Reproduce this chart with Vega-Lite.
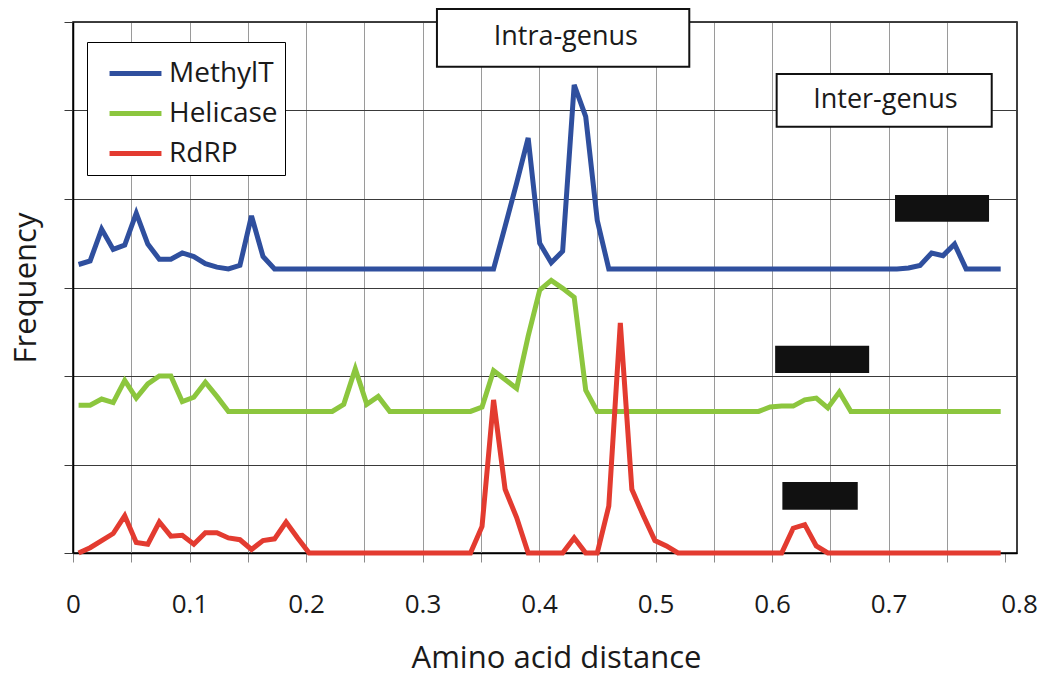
{
  "$schema": "https://vega.github.io/schema/vega-lite/v6.json",
  "width": 944,
  "height": 531,
  "autosize": {"type": "none"},
  "padding": {"left": 73, "top": 22, "right": 30, "bottom": 123},
  "background": "white",
  "config": {
    "font": "Open Sans",
    "view": {"stroke": "#000", "strokeWidth": 1.5},
    "axis": {
      "domainColor": "#000",
      "domainWidth": 1.5,
      "tickWidth": 1,
      "tickSize": 9,
      "gridWidth": 1,
      "labelFont": "Open Sans",
      "labelFontSize": 26,
      "labelColor": "#1a1a1a",
      "titleFont": "Open Sans",
      "titleFontSize": 31,
      "titleFontWeight": "normal",
      "titleColor": "#1a1a1a"
    }
  },
  "datasets": {
    "curves": [
      {"x": 0.0048, "MethylT": 3.26, "Helicase": 1.67, "RdRP": 0},
      {"x": 0.0147, "MethylT": 3.30, "Helicase": 1.67, "RdRP": 0.06},
      {"x": 0.0246, "MethylT": 3.66, "Helicase": 1.74, "RdRP": 0.14},
      {"x": 0.0345, "MethylT": 3.43, "Helicase": 1.70, "RdRP": 0.22},
      {"x": 0.0444, "MethylT": 3.48, "Helicase": 1.95, "RdRP": 0.42},
      {"x": 0.0543, "MethylT": 3.84, "Helicase": 1.75, "RdRP": 0.12},
      {"x": 0.0642, "MethylT": 3.49, "Helicase": 1.91, "RdRP": 0.10},
      {"x": 0.0741, "MethylT": 3.32, "Helicase": 2.00, "RdRP": 0.35},
      {"x": 0.0840, "MethylT": 3.32, "Helicase": 2.00, "RdRP": 0.19},
      {"x": 0.0938, "MethylT": 3.39, "Helicase": 1.71, "RdRP": 0.20},
      {"x": 0.1037, "MethylT": 3.35, "Helicase": 1.76, "RdRP": 0.10},
      {"x": 0.1136, "MethylT": 3.27, "Helicase": 1.93, "RdRP": 0.23},
      {"x": 0.1235, "MethylT": 3.23, "Helicase": 1.77, "RdRP": 0.23},
      {"x": 0.1334, "MethylT": 3.21, "Helicase": 1.60, "RdRP": 0.17},
      {"x": 0.1433, "MethylT": 3.25, "Helicase": 1.60, "RdRP": 0.15},
      {"x": 0.1532, "MethylT": 3.81, "Helicase": 1.60, "RdRP": 0.04},
      {"x": 0.1631, "MethylT": 3.35, "Helicase": 1.60, "RdRP": 0.14},
      {"x": 0.1730, "MethylT": 3.21, "Helicase": 1.60, "RdRP": 0.16},
      {"x": 0.1829, "MethylT": 3.21, "Helicase": 1.60, "RdRP": 0.35},
      {"x": 0.1928, "MethylT": 3.21, "Helicase": 1.60, "RdRP": 0.17},
      {"x": 0.2027, "MethylT": 3.21, "Helicase": 1.60, "RdRP": 0},
      {"x": 0.2126, "MethylT": 3.21, "Helicase": 1.60, "RdRP": 0},
      {"x": 0.2225, "MethylT": 3.21, "Helicase": 1.60, "RdRP": 0},
      {"x": 0.2324, "MethylT": 3.21, "Helicase": 1.68, "RdRP": 0},
      {"x": 0.2423, "MethylT": 3.21, "Helicase": 2.08, "RdRP": 0},
      {"x": 0.2522, "MethylT": 3.21, "Helicase": 1.68, "RdRP": 0},
      {"x": 0.2620, "MethylT": 3.21, "Helicase": 1.77, "RdRP": 0},
      {"x": 0.2719, "MethylT": 3.21, "Helicase": 1.60, "RdRP": 0},
      {"x": 0.2818, "MethylT": 3.21, "Helicase": 1.60, "RdRP": 0},
      {"x": 0.2917, "MethylT": 3.21, "Helicase": 1.60, "RdRP": 0},
      {"x": 0.3016, "MethylT": 3.21, "Helicase": 1.60, "RdRP": 0},
      {"x": 0.3115, "MethylT": 3.21, "Helicase": 1.60, "RdRP": 0},
      {"x": 0.3214, "MethylT": 3.21, "Helicase": 1.60, "RdRP": 0},
      {"x": 0.3313, "MethylT": 3.21, "Helicase": 1.60, "RdRP": 0},
      {"x": 0.3412, "MethylT": 3.21, "Helicase": 1.60, "RdRP": 0},
      {"x": 0.3511, "MethylT": 3.21, "Helicase": 1.65, "RdRP": 0.30},
      {"x": 0.3610, "MethylT": 3.21, "Helicase": 2.06, "RdRP": 1.73},
      {"x": 0.3709, "MethylT": 3.69, "Helicase": 1.96, "RdRP": 0.72},
      {"x": 0.3808, "MethylT": 4.18, "Helicase": 1.86, "RdRP": 0.40},
      {"x": 0.3907, "MethylT": 4.69, "Helicase": 2.45, "RdRP": 0},
      {"x": 0.4006, "MethylT": 3.50, "Helicase": 2.97, "RdRP": 0},
      {"x": 0.4105, "MethylT": 3.28, "Helicase": 3.08, "RdRP": 0},
      {"x": 0.4203, "MethylT": 3.41, "Helicase": 2.99, "RdRP": 0},
      {"x": 0.4302, "MethylT": 5.29, "Helicase": 2.89, "RdRP": 0.17},
      {"x": 0.4401, "MethylT": 4.93, "Helicase": 1.84, "RdRP": 0},
      {"x": 0.4500, "MethylT": 3.76, "Helicase": 1.60, "RdRP": 0},
      {"x": 0.4599, "MethylT": 3.21, "Helicase": 1.60, "RdRP": 0.53},
      {"x": 0.4698, "MethylT": 3.21, "Helicase": 1.60, "RdRP": 2.60},
      {"x": 0.4797, "MethylT": 3.21, "Helicase": 1.60, "RdRP": 0.72},
      {"x": 0.4896, "MethylT": 3.21, "Helicase": 1.60, "RdRP": 0.42},
      {"x": 0.4995, "MethylT": 3.21, "Helicase": 1.60, "RdRP": 0.14},
      {"x": 0.5094, "MethylT": 3.21, "Helicase": 1.60, "RdRP": 0.08},
      {"x": 0.5193, "MethylT": 3.21, "Helicase": 1.60, "RdRP": 0},
      {"x": 0.5292, "MethylT": 3.21, "Helicase": 1.60, "RdRP": 0},
      {"x": 0.5391, "MethylT": 3.21, "Helicase": 1.60, "RdRP": 0},
      {"x": 0.5490, "MethylT": 3.21, "Helicase": 1.60, "RdRP": 0},
      {"x": 0.5589, "MethylT": 3.21, "Helicase": 1.60, "RdRP": 0},
      {"x": 0.5688, "MethylT": 3.21, "Helicase": 1.60, "RdRP": 0},
      {"x": 0.5787, "MethylT": 3.21, "Helicase": 1.60, "RdRP": 0},
      {"x": 0.5885, "MethylT": 3.21, "Helicase": 1.60, "RdRP": 0},
      {"x": 0.5984, "MethylT": 3.21, "Helicase": 1.65, "RdRP": 0},
      {"x": 0.6083, "MethylT": 3.21, "Helicase": 1.66, "RdRP": 0},
      {"x": 0.6182, "MethylT": 3.21, "Helicase": 1.66, "RdRP": 0.28},
      {"x": 0.6281, "MethylT": 3.21, "Helicase": 1.73, "RdRP": 0.32},
      {"x": 0.6380, "MethylT": 3.21, "Helicase": 1.75, "RdRP": 0.08},
      {"x": 0.6479, "MethylT": 3.21, "Helicase": 1.64, "RdRP": 0},
      {"x": 0.6578, "MethylT": 3.21, "Helicase": 1.82, "RdRP": 0},
      {"x": 0.6677, "MethylT": 3.21, "Helicase": 1.60, "RdRP": 0},
      {"x": 0.6776, "MethylT": 3.21, "Helicase": 1.60, "RdRP": 0},
      {"x": 0.6875, "MethylT": 3.21, "Helicase": 1.60, "RdRP": 0},
      {"x": 0.6974, "MethylT": 3.21, "Helicase": 1.60, "RdRP": 0},
      {"x": 0.7073, "MethylT": 3.21, "Helicase": 1.60, "RdRP": 0},
      {"x": 0.7172, "MethylT": 3.22, "Helicase": 1.60, "RdRP": 0},
      {"x": 0.7271, "MethylT": 3.25, "Helicase": 1.60, "RdRP": 0},
      {"x": 0.7370, "MethylT": 3.39, "Helicase": 1.60, "RdRP": 0},
      {"x": 0.7468, "MethylT": 3.36, "Helicase": 1.60, "RdRP": 0},
      {"x": 0.7567, "MethylT": 3.49, "Helicase": 1.60, "RdRP": 0},
      {"x": 0.7666, "MethylT": 3.21, "Helicase": 1.60, "RdRP": 0},
      {"x": 0.7765, "MethylT": 3.21, "Helicase": 1.60, "RdRP": 0},
      {"x": 0.7864, "MethylT": 3.21, "Helicase": 1.60, "RdRP": 0},
      {"x": 0.7963, "MethylT": 3.21, "Helicase": 1.60, "RdRP": 0}
    ],
    "bars": [
      {"gene": "MethylT", "x1": 0.7056, "x2": 0.7863, "y1": 3.744, "y2": 4.045},
      {"gene": "Helicase", "x1": 0.6027, "x2": 0.6834, "y1": 2.033, "y2": 2.341},
      {"gene": "RdRP", "x1": 0.6089, "x2": 0.6736, "y1": 0.489, "y2": 0.802}
    ],
    "boxes": [
      {"label": "Intra-genus", "x1": 0.3124, "x2": 0.5290, "y1": 5.495, "y2": 6.147, "tx": 0.4230, "ty": 5.740},
      {"label": "Inter-genus", "x1": 0.6040, "x2": 0.7886, "y1": 4.817, "y2": 5.412, "tx": 0.6973, "ty": 5.025}
    ]
  },
  "layer": [
    {
      "data": {"name": "curves"},
      "transform": [{"fold": ["MethylT", "Helicase", "RdRP"], "as": ["gene", "freq"]}],
      "mark": {"type": "line", "strokeWidth": 5},
      "encoding": {
        "x": {
          "field": "x",
          "type": "quantitative",
          "scale": {"domain": [0, 0.8103], "nice": false, "zero": false},
          "axis": {
            "title": "Amino acid distance",
            "titleX": 483,
            "titleY": 114,
            "titleBaseline": "alphabetic",
            "values": [0, 0.025, 0.05, 0.075, 0.1, 0.125, 0.15, 0.175, 0.2, 0.225, 0.25, 0.275, 0.3, 0.325, 0.35, 0.375, 0.4, 0.425, 0.45, 0.475, 0.5, 0.525, 0.55, 0.575, 0.6, 0.625, 0.65, 0.675, 0.7, 0.725, 0.75, 0.775, 0.8],
            "grid": true,
            "gridColor": "#9a9a9a",
            "gridOpacity": {"condition": {"test": "datum.value > 0.01 && datum.value < 0.79 && abs(datum.value * 20 - round(datum.value * 20)) < 0.01", "value": 1}, "value": 0},
            "tickColor": "#8a8a8a",
            "labelExpr": "abs(datum.value * 10 - round(datum.value * 10)) < 0.01 ? (datum.value == 0 ? '0' : format(datum.value, '.1f')) : ''",
            "labelOffset": {"condition": {"test": "datum.value > 0.79", "value": 14}, "value": 0},
            "labelOverlap": false,
            "labelFlush": false,
            "labelPadding": 29
          }
        },
        "y": {
          "field": "freq",
          "type": "quantitative",
          "scale": {"domain": [0, 6], "nice": false},
          "axis": {
            "title": "Frequency",
            "titleX": -38,
            "titleBaseline": "alphabetic",
            "titleAngle": -90,
            "values": [0, 1, 2, 3, 4, 5, 6],
            "labels": false,
            "grid": true,
            "gridColor": "#3a3a3a",
            "tickColor": "#3a3a3a"
          }
        },
        "color": {
          "field": "gene",
          "type": "nominal",
          "scale": {"domain": ["MethylT", "Helicase", "RdRP"], "range": ["#2F4F9E", "#8CC63E", "#E33B30"]},
          "legend": {
            "title": null,
            "orient": "none",
            "legendX": 14,
            "legendY": 20,
            "symbolType": "M-1.18,0H1.18",
            "symbolSize": 1936,
            "symbolStrokeWidth": 5,
            "labelFontSize": 28,
            "labelFont": "Open Sans",
            "labelColor": "#1a1a1a",
            "strokeColor": "#000",
            "fillColor": "#fff",
            "padding": 7,
            "symbolOffset": 17,
            "rowPadding": 1,
            "labelOffset": 9
          }
        }
      }
    },
    {
      "data": {"name": "bars"},
      "mark": {"type": "rect", "color": "#111"},
      "encoding": {
        "x": {"field": "x1", "type": "quantitative"},
        "x2": {"field": "x2"},
        "y": {"field": "y1", "type": "quantitative"},
        "y2": {"field": "y2"}
      }
    },
    {
      "data": {"name": "boxes"},
      "mark": {"type": "rect", "fill": "#fff", "stroke": "#111", "strokeWidth": 2},
      "encoding": {
        "x": {"field": "x1", "type": "quantitative"},
        "x2": {"field": "x2"},
        "y": {"field": "y1", "type": "quantitative"},
        "y2": {"field": "y2"}
      }
    },
    {
      "data": {"name": "boxes"},
      "mark": {"type": "text", "fontSize": 27, "font": "Open Sans", "color": "#1a1a1a", "baseline": "alphabetic", "align": "center"},
      "encoding": {
        "x": {"field": "tx", "type": "quantitative"},
        "y": {"field": "ty", "type": "quantitative"},
        "text": {"field": "label"}
      }
    }
  ]
}
